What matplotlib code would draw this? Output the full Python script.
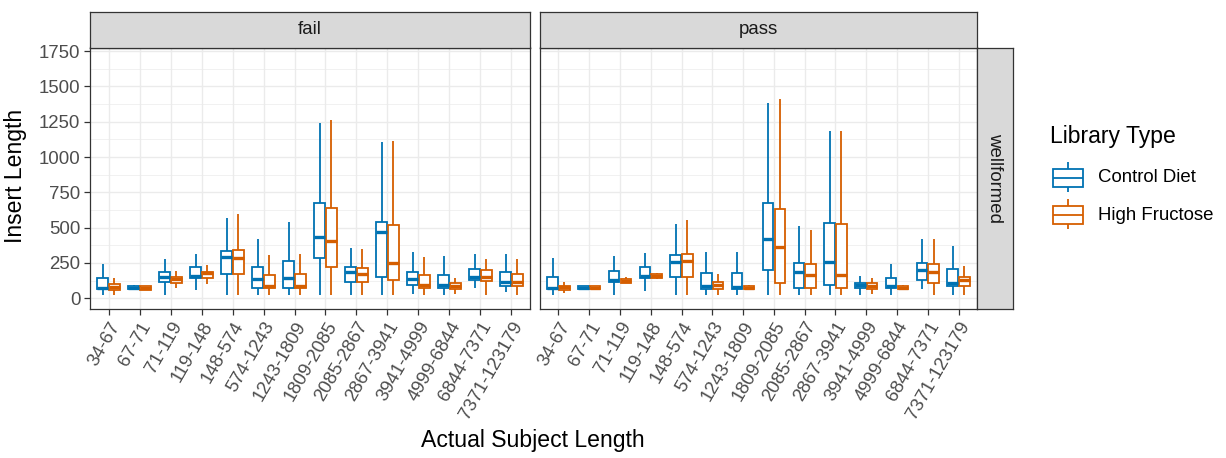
import matplotlib.pyplot as plt
import numpy as np

plt.rcParams['font.family'] = ['Liberation Sans', 'DejaVu Sans']

categories = ["34-67", "67-71", "71-119", "119-148", "148-574", "574-1243",
              "1243-1809", "1809-2085", "2085-2867", "2867-3941", "3941-4999",
              "4999-6844", "6844-7371", "7371-123179"]

# (lower whisker, q1, median, q3, upper whisker) per length bin
fail_control = [(23, 63, 75, 141, 242), (59, 63, 75, 87, 94), (23, 113, 148, 183, 275),
                (59, 146, 160, 218, 317), (23, 171, 294, 336, 568), (23, 70, 134, 218, 423),
                (23, 70, 141, 265, 540), (23, 282, 435, 674, 1240), (23, 117, 183, 218, 359),
                (23, 153, 470, 540, 1109), (31, 94, 136, 188, 327), (23, 70, 94, 164, 298),
                (70, 129, 153, 209, 317), (42, 89, 113, 183, 310)]
fail_fructose = [(23, 59, 82, 101, 141), (59, 61, 73, 85, 89), (70, 106, 136, 148, 193),
                 (99, 146, 176, 188, 235), (23, 171, 282, 345, 594), (23, 70, 87, 164, 305),
                 (23, 70, 87, 169, 317), (23, 218, 404, 641, 1264), (23, 117, 169, 211, 352),
                 (23, 129, 251, 521, 1116), (23, 70, 94, 164, 291), (31, 66, 87, 106, 141),
                 (23, 122, 148, 200, 277), (23, 87, 113, 169, 277)]
pass_control = [(23, 63, 75, 153, 282), (63, 63, 75, 87, 87), (23, 113, 129, 195, 301),
                (54, 146, 160, 223, 324), (23, 153, 254, 305, 529), (23, 63, 87, 176, 329),
                (23, 63, 78, 176, 329), (23, 200, 423, 674, 1381), (23, 75, 183, 251, 510),
                (23, 94, 258, 533, 1186), (23, 70, 94, 110, 160), (23, 70, 89, 146, 242),
                (63, 129, 200, 251, 423), (23, 89, 106, 209, 371)]
pass_fructose = [(40, 59, 78, 89, 117), (63, 63, 75, 87, 87), (106, 110, 124, 139, 148),
                 (136, 141, 157, 169, 176), (23, 148, 263, 312, 552), (23, 63, 94, 117, 169),
                 (59, 63, 75, 87, 94), (23, 106, 364, 634, 1414), (23, 75, 164, 240, 482),
                 (23, 75, 164, 524, 1186), (31, 66, 89, 106, 141), (59, 63, 75, 87, 94),
                 (23, 106, 188, 242, 423), (23, 89, 129, 153, 228)]

groups = ["Control Diet", "High Fructose"]
colors = ["#0072B2", "#D55E00"]
y_ticks = [0, 250, 500, 750, 1000, 1250, 1500, 1750]

W, H = 1226, 458
fig = plt.figure(figsize=(W / 100, H / 100), dpi=100)
GREY20 = "#333333"


def pixel_axes(x0, y0, x1, y1):
    return fig.add_axes([x0 / W, 1 - y1 / H, (x1 - x0) / W, (y1 - y0) / H])


def box_stats(rows):
    return [dict(whislo=r[0], q1=r[1], med=r[2], q3=r[3], whishi=r[4]) for r in rows]


def draw_boxes(ax, rows, positions, color, width, med_lw=2.4):
    ax.bxp(box_stats(rows), positions=positions, widths=width, showcaps=False,
           showfliers=False, patch_artist=True, manage_ticks=False,
           boxprops=dict(facecolor="white", edgecolor=color, linewidth=1.3),
           whiskerprops=dict(color=color, linewidth=1.3, solid_capstyle="butt"),
           medianprops=dict(color=color, linewidth=med_lw, solid_capstyle="butt"))


def strip(x0, y0, x1, y1, label, rotation=0):
    s = pixel_axes(x0, y0, x1, y1)
    s.set_facecolor("#D9D9D9")
    s.set_xticks([])
    s.set_yticks([])
    for sp in s.spines.values():
        sp.set_color(GREY20)
        sp.set_linewidth(0.9)
    s.text(0.5, 0.5, label, transform=s.transAxes, ha="center", va="center",
           rotation=rotation, fontsize=13.4, color="#1A1A1A")


panels = [("fail", 90, 530, fail_control, fail_fructose),
          ("pass", 540, 977, pass_control, pass_fructose)]

x = np.arange(len(categories))
for k, (name, x0, x1, ctrl, fruc) in enumerate(panels):
    ax = pixel_axes(x0, 47.5, x1, 309)
    ax.set_axisbelow(True)
    draw_boxes(ax, ctrl, x - 0.19, colors[0], 0.34)
    draw_boxes(ax, fruc, x + 0.19, colors[1], 0.34)
    ax.set_xlim(-0.6, len(categories) - 0.4)
    ax.set_ylim(-76, 1776)
    ax.set_yticks(y_ticks)
    ax.set_yticks([t + 125 for t in y_ticks[:-1]], minor=True)
    ax.set_xticks(x)
    ax.set_xticklabels(categories, rotation=60, ha="right", va="top",
                       rotation_mode="anchor", fontsize=13.4, color="#4D4D4D")
    ax.grid(which="major", color="#EBEBEB", linewidth=1.0)
    ax.grid(which="minor", axis="y", color="#EBEBEB", linewidth=0.5)
    ax.tick_params(axis="both", which="major", length=4, width=0.9, color=GREY20,
                   labelsize=13.4, labelcolor="#4D4D4D", pad=3)
    ax.tick_params(which="minor", length=0)
    if k > 0:
        ax.tick_params(axis="y", which="major", length=0, labelleft=False)
    for sp in ax.spines.values():
        sp.set_color(GREY20)
        sp.set_linewidth(0.9)
    strip(x0, 12, x1, 47.5, name)

strip(977, 47.5, 1013, 309, "wellformed", rotation=-90)

fig.text(16 / W, 1 - 176 / H, "Insert Length", rotation=90, ha="center", va="center",
         fontsize=16.6, color="black")
fig.text(533 / W, 1 - 441 / H, "Actual Subject Length", ha="center", va="center",
         fontsize=16.6, color="black")

# legend drawn in pixel coordinates so the keys can use real box glyphs
leg = pixel_axes(1040, 110, 1226, 240)
leg.set_xlim(1040, 1226)
leg.set_ylim(240, 110)
leg.axis("off")
leg.text(1050, 137, "Library Type", ha="left", va="center", fontsize=16.6)
for i, (label, color) in enumerate(zip(groups, colors)):
    cy = 178 + 37 * i
    draw_boxes(leg, [(cy - 16, cy - 9, cy, cy + 9, cy + 14)], [1068], color, 30, med_lw=1.3)
    leg.text(1098, cy, label, ha="left", va="center", fontsize=13.4)

fig.savefig("out.png", dpi=100)
